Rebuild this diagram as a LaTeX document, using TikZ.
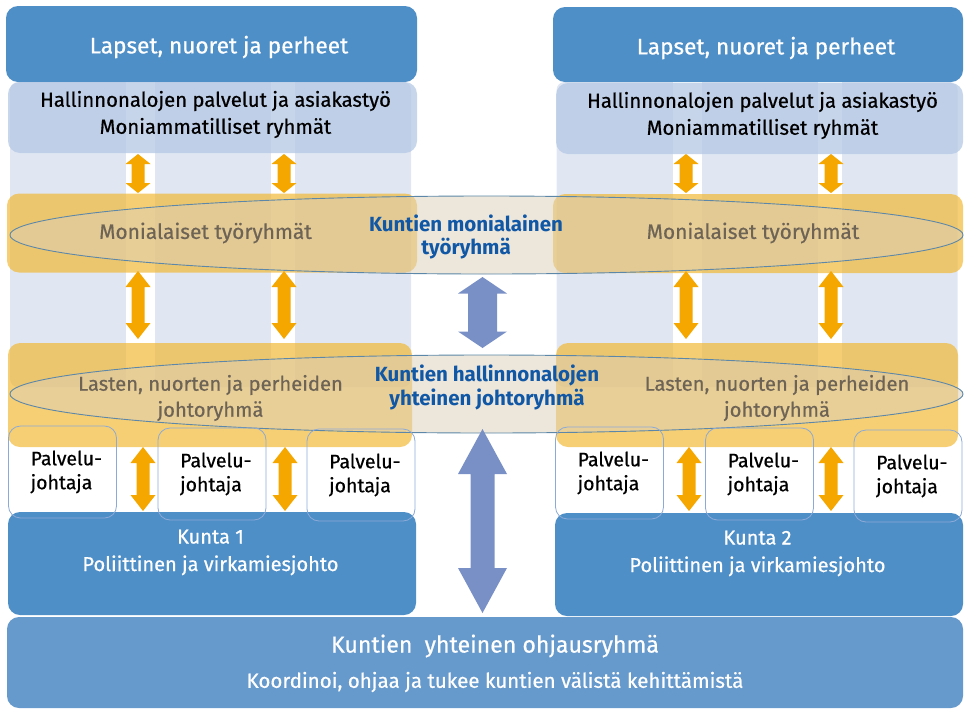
\documentclass[tikz,border=0pt]{standalone}
\usepackage{fontspec}
\setmainfont{Fira Sans}[UprightFeatures={FakeBold=0.6}]
\usetikzlibrary{shapes.geometric}
\definecolor{dblue}{RGB}{79,143,200}
\definecolor{midblue}{RGB}{180,200,228}
\definecolor{paleblue}{RGB}{224,231,243}
\definecolor{goldc}{RGB}{242,185,56}
\definecolor{beigec}{RGB}{220,207,185}
\definecolor{ellline}{RGB}{92,135,168}
\definecolor{orangeA}{RGB}{245,167,0}
\definecolor{arrblue}{RGB}{121,144,198}
\definecolor{elltext}{RGB}{16,88,166}
\definecolor{graytext}{RGB}{110,100,86}
\definecolor{botblue}{RGB}{102,153,204}
\definecolor{palline}{RGB}{140,170,215}
\newcommand\VDArrow[7]{% color, x, ytop, ybot, head half width, shaft half width, head length
  \fill[#1] (#2,#3) -- (#2+#5,#3+#7) -- (#2+#6,#3+#7) -- (#2+#6,#4-#7) -- (#2+#5,#4-#7)
    -- (#2,#4) -- (#2-#5,#4-#7) -- (#2-#6,#4-#7) -- (#2-#6,#3+#7) -- (#2-#5,#3+#7) -- cycle;}
\tikzset{
  boxbase/.style={rectangle, inner sep=0pt, outer sep=0pt},
  topbox/.style={boxbase, fill=dblue, rounded corners=12pt},
  servbox/.style={boxbase, fill=midblue, fill opacity=0.75, rounded corners=12pt},
  palecol/.style={boxbase, fill=paleblue, rounded corners=8pt},
  stripe/.style={boxbase, fill=white},
  goldbox/.style={boxbase, fill=goldc, fill opacity=0.7, rounded corners=12pt},
  ell/.style={ellipse, inner sep=0pt, fill=beigec, fill opacity=0.52, draw=ellline, line width=0.9pt, minimum width=953pt, minimum height=78pt},
  palbox/.style={boxbase, draw=palline, line width=0.8pt, rounded corners=12pt, minimum width=108pt, minimum height=92pt},
  kuntabox/.style={boxbase, fill=dblue, rounded corners=12pt, minimum width=408pt, minimum height=103pt},
  wtext/.style={text=white, align=center, inner sep=0pt},
  btext/.style={text=black, align=center, inner sep=0pt},
  gtext/.style={text=graytext, align=center, inner sep=0pt},
  etext/.style={text=elltext, align=center, inner sep=0pt, font=\fontsize{20.5}{23.5}\selectfont\bfseries},
  ptext/.style={text=black, align=left, inner sep=0pt, anchor=west, font=\fontsize{19.5}{24}\selectfont},
}
\begin{document}
\begin{tikzpicture}[x=1pt,y=-1pt]
\useasboundingbox (0,0) rectangle (964,710);
% pale columns with white stripes
\node[palecol, minimum width=401pt, minimum height=305pt] (col1) at (210.5,234.5) {};
\node[palecol, minimum width=401pt, minimum height=305pt] (col2) at (757,234.5) {};
\node[stripe, minimum width=29pt, minimum height=305pt] (s1) at (140.5,234.5) {};
\node[stripe, minimum width=24pt, minimum height=305pt] (s2) at (283,234.5) {};
\node[stripe, minimum width=29pt, minimum height=305pt] (s3) at (687.5,234.5) {};
\node[stripe, minimum width=24pt, minimum height=305pt] (s4) at (830,234.5) {};
% top boxes
\node[topbox, minimum width=411pt, minimum height=76pt] (top1) at (211.5,44) {};
\node[topbox, minimum width=410pt, minimum height=75pt] (top2) at (758,44.5) {};
\node[wtext, font=\fontsize{22.6}{26}\selectfont] (t1) at (219,47) {Lapset, nuoret ja perheet};
\node[wtext, font=\fontsize{22.6}{26}\selectfont] (t2) at (766,48) {Lapset, nuoret ja perheet};
% service boxes
\node[servbox, minimum width=409pt, minimum height=71pt] (serv1) at (212.5,117.5) {};
\node[servbox, minimum width=407pt, minimum height=71pt] (serv2) at (759.5,118.5) {};
\node[btext, font=\fontsize{20.3}{27}\selectfont] (st1) at (215.5,114.5) {Hallinnonalojen palvelut ja asiakastyö\\Moniammatilliset ryhmät};
\node[btext, font=\fontsize{20.3}{27}\selectfont] (st2) at (762.5,115.5) {Hallinnonalojen palvelut ja asiakastyö\\Moniammatilliset ryhmät};
% gold boxes
\node[goldbox, minimum width=410pt, minimum height=79pt] (g1) at (212,233) {};
\node[goldbox, minimum width=410pt, minimum height=79pt] (g2) at (758,233.5) {};
\node[goldbox, minimum width=404pt, minimum height=104pt] (g3) at (210,395) {};
\node[goldbox, minimum width=402pt, minimum height=104pt] (g4) at (757,395) {};
% Kunta boxes
\node[kuntabox] (k1) at (212,563.5) {};
\node[kuntabox] (k2) at (759,564.5) {};
\node[wtext, font=\fontsize{20}{27.5}\selectfont] (kt1) at (210.5,552.5) {Kunta 1\\Poliittinen ja virkamiesjohto};
\node[wtext, font=\fontsize{20}{27.5}\selectfont] (kt2) at (757.5,553.5) {Kunta 2\\Poliittinen ja virkamiesjohto};
% bottom box
\node[boxbase, fill=botblue, rounded corners=12pt, minimum width=956pt, minimum height=91pt] (bot) at (485,662.5) {};
\node[wtext, font=\fontsize{23.1}{26}\selectfont] (bt1) at (495,646) {Kuntien\ \ yhteinen ohjausryhmä};
\node[wtext, font=\fontsize{20.5}{23}\selectfont] (bt2) at (495,682) {Koordinoi, ohjaa ja tukee kuntien välistä kehittämistä};
% ellipses
\node[ell] (e1) at (486.5,235) {};
\node[ell] (e2) at (486.5,394) {};
\node[gtext, font=\fontsize{20.9}{24}\selectfont] (m1) at (205.5,233) {Monialaiset työryhmät};
\node[gtext, font=\fontsize{20.9}{24}\selectfont] (m2) at (753,233) {Monialaiset työryhmät};
\node[gtext, font=\fontsize{20.2}{26}\selectfont] (l1) at (210.5,398) {Lasten, nuorten ja perheiden\\johtoryhmä};
\node[gtext, font=\fontsize{20.2}{26}\selectfont] (l2) at (777,398) {Lasten, nuorten ja perheiden\\johtoryhmä};
\node[etext] (et1) at (466,237) {Kuntien monialainen\\työryhmä};
\node[etext] (et2) at (487,387.5) {Kuntien hallinnonalojen\\yhteinen johtoryhmä};
% Palvelujohtaja boxes
\node[palbox] (p1) at (62.5,472) {};
\node[palbox] (p2) at (212,474) {};
\node[palbox] (p3) at (361,475) {};
\node[palbox] (p4) at (609.5,473) {};
\node[palbox] (p5) at (759.5,474) {};
\node[palbox] (p6) at (908,476) {};
\foreach \p in {p1,p2,p3,p4,p5,p6}{
  \node[ptext] (\p t) at ([xshift=22pt]\p.west) {Palvelu-\\johtaja};
}
% orange arrows
\foreach \xx in {138,284,686,831}{
  \VDArrow{orangeA}{\xx}{154}{193}{12.5}{6.5}{10}
  \VDArrow{orangeA}{\xx}{271}{339}{12.5}{6.5}{16}
}
\foreach \xx in {143,285,689,831}{
  \VDArrow{orangeA}{\xx}{447}{511}{12.5}{6.5}{16}
}
% blue arrows
\VDArrow{arrblue}{482.5}{277}{348}{24.5}{14.5}{16.5}
\VDArrow{arrblue}{482.5}{429}{613}{24.5}{12}{45}
\end{tikzpicture}
\end{document}
